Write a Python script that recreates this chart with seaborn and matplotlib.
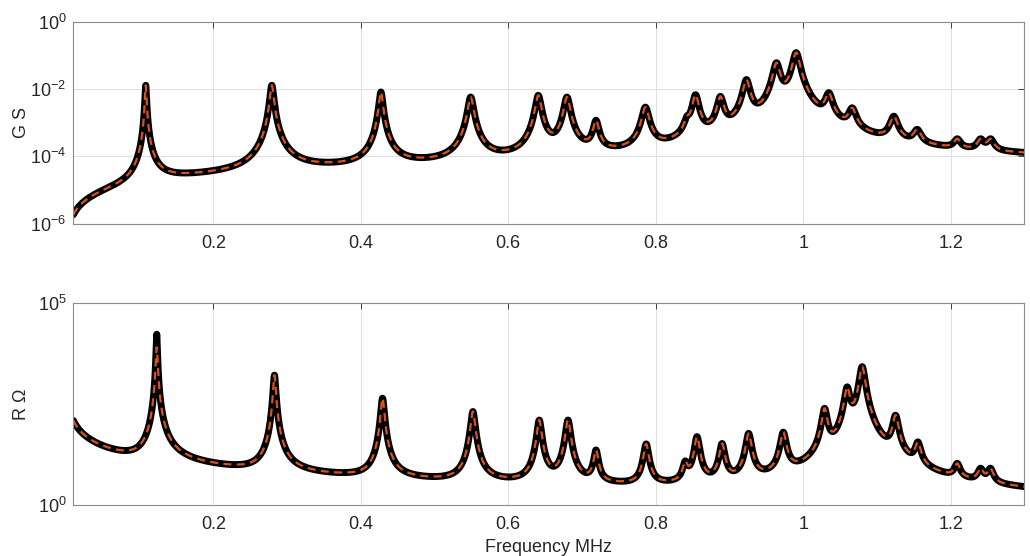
import numpy as np
import pandas as pd
import matplotlib
matplotlib.use("Agg")
import matplotlib.pyplot as plt
import seaborn as sns
from matplotlib.ticker import FixedLocator, FixedFormatter, NullLocator

# conductance resonances: MHz, log10(G / S), quality factor
g_freq = [0.1082, 0.2792, 0.4272, 0.549, 0.6407, 0.6796, 0.719, 0.786, 0.8425, 0.854,
          0.8877, 0.923, 0.9638, 0.9905, 1.0348, 1.0665, 1.123, 1.1547, 1.209, 1.2407, 1.2543]
g_peak_log = [-1.89, -1.89, -2.09, -2.24, -2.19, -2.24, -2.93, -2.54, -2.80, -2.17,
              -2.22, -1.72, -1.22, -0.92, -2.11, -2.56, -2.81, -3.20, -3.48, -3.48, -3.48]
g_q = [58, 62, 90, 80, 90, 90, 100, 90, 110, 110,
       110, 110, 110, 110, 110, 110, 110, 110, 130, 130, 130]
# background conductance: level (S), corner (MHz), exponent
g_bg = (1.0e-4, 0.55, 1.0)

# resistance (anti)resonances: MHz, log10(R / ohm), quality factor
r_freq = [0.1231, 0.2828, 0.4294, 0.552, 0.642, 0.681, 0.719, 0.787, 0.840, 0.856,
          0.890, 0.926, 0.973, 1.0054, 1.029, 1.0597, 1.080, 1.105, 1.1253, 1.1556,
          1.209, 1.2407, 1.254]
r_peak_log = [4.22, 3.21, 2.64, 2.31, 2.10, 2.10, 1.36, 1.51, 1.09, 1.69,
              1.52, 1.77, 1.80, 0.99, 2.39, 2.92, 3.42, 1.72, 2.22, 1.56,
              1.03, 0.91, 0.91]
r_q = [80, 90, 100, 100, 110, 110, 120, 120, 130, 130,
       130, 130, 130, 130, 150, 150, 150, 150, 150, 150,
       150, 150, 150]
# the dashed (model) curve tops out lower on the first peak
r_peak_log_model = [3.90] + r_peak_log[1:]
r_q_model = [55] + r_q[1:]
# background resistance: R = a * f^-p
r_bg = (1.95, 0.9)

freq = np.linspace(0.01, 1.3, 6000)


def lorentz(f, f0, q):
    return 1.0 / (1.0 + q ** 2 * (f / f0 - f0 / f) ** 2)


def resonance_curve(f, bg, freqs, logs, qs):
    freqs = np.asarray(freqs)
    qs = np.asarray(qs)
    target = 10.0 ** np.asarray(logs)
    at_peaks = lorentz(freqs[:, None], freqs[None, :], qs[None, :])
    base = bg(freqs)
    h = np.maximum(target - base, target * 0.02)
    # scale heights so the curve passes through the read peak levels
    for _ in range(300):
        h *= target / (base + at_peaks @ h)
    return bg(f) + lorentz(f[:, None], freqs[None, :], qs[None, :]) @ h


def g_background(f):
    level, corner, p = g_bg
    r = (f / corner) ** p
    return level * r / (1 + r)


def r_background(f):
    a, p = r_bg
    return a * f ** -p


G = resonance_curve(freq, g_background, g_freq, g_peak_log, g_q)
R = resonance_curve(freq, r_background, r_freq, r_peak_log, r_q)
R_model = resonance_curve(freq, r_background, r_freq, r_peak_log_model, r_q_model)

df = pd.DataFrame({"freq": freq, "G": G, "R": R, "R_model": R_model})

sns.set_theme(style="white")
plt.rcParams["font.family"] = ["Liberation Sans", "DejaVu Sans"]
plt.rcParams["mathtext.fontset"] = "custom"
plt.rcParams["mathtext.rm"] = "Liberation Sans"

fig = plt.figure(figsize=(10.3, 5.56), dpi=100)
ax1 = fig.add_axes([0.0712, 0.598, 0.9233, 0.363])
ax2 = fig.add_axes([0.0712, 0.0917, 0.9233, 0.3639])

orange = "#D95319"
text_col = "#262626"

for ax, col, col2 in [(ax1, "G", "G"), (ax2, "R", "R_model")]:
    sns.lineplot(data=df, x="freq", y=col, ax=ax, color="black", lw=5,
                 estimator=None, sort=False, solid_capstyle="round")
    sns.lineplot(data=df, x="freq", y=col2, ax=ax, color=orange, lw=1.6,
                 estimator=None, sort=False, linestyle=(0, (3.6, 2.4)))
    ax.set_yscale("log")
    ax.set_xlim(0.01, 1.3)
    ax.xaxis.set_major_locator(FixedLocator([0.2, 0.4, 0.6, 0.8, 1.0, 1.2]))
    ax.xaxis.set_major_formatter(FixedFormatter(["0.2", "0.4", "0.6", "0.8", "1", "1.2"]))
    ax.yaxis.set_minor_locator(NullLocator())
    ax.grid(True, color="#dfdfdf", lw=0.7)
    ax.tick_params(direction="in", length=4, width=0.7, color="#404040",
                   top=True, right=True, labelsize=13, labelcolor=text_col)
    ax.tick_params(axis="x", pad=8)
    ax.tick_params(axis="y", pad=5)
    for s in ax.spines.values():
        s.set_color("#8c8c8c")
        s.set_linewidth(0.8)
    ax.set_xlabel("")

ax1.set_ylim(1e-6, 1e0)
ax1.yaxis.set_major_locator(FixedLocator([1e-6, 1e-4, 1e-2, 1e0]))
ax1.yaxis.set_major_formatter(FixedFormatter([r"$10^{-6}$", r"$10^{-4}$", r"$10^{-2}$", r"$10^{0}$"]))
ax1.set_ylabel("G S", fontsize=13, color=text_col)
ax1.yaxis.set_label_coords(-0.046, 0.5)

ax2.set_ylim(1e0, 1e5)
ax2.yaxis.set_major_locator(FixedLocator([1e0, 1e5]))
ax2.yaxis.set_major_formatter(FixedFormatter([r"$10^{0}$", r"$10^{5}$"]))
ax2.set_ylabel("R Ω", fontsize=13, color=text_col)
ax2.yaxis.set_label_coords(-0.046, 0.5)
ax2.set_xlabel("Frequency MHz", fontsize=13, color=text_col, labelpad=4)

fig.savefig("out.png", dpi=100)
